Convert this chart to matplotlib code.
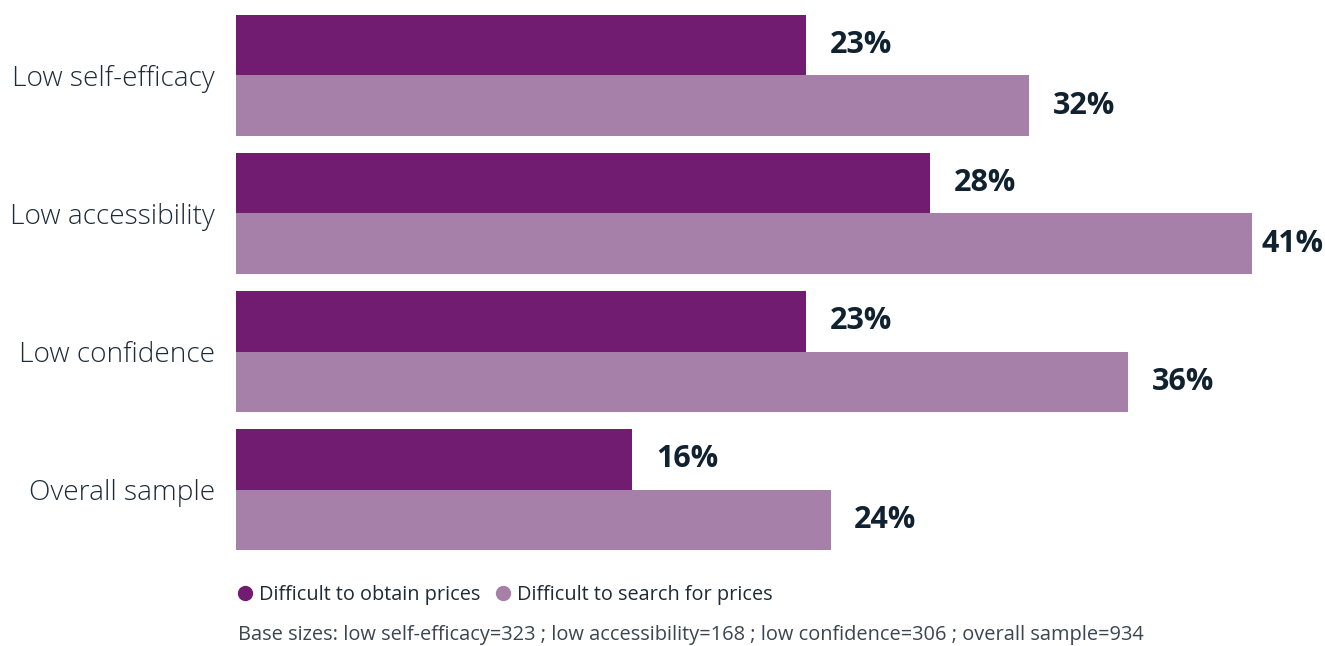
import numpy as np
import matplotlib.pyplot as plt
from matplotlib.lines import Line2D

categories = ['Low self-efficacy', 'Low accessibility', 'Low confidence', 'Overall sample']
obtain = [23, 28, 23, 16]
search = [32, 41, 36, 24]
series_names = ['Difficult to obtain prices', 'Difficult to search for prices']
footnote = ('Base sizes: low self-efficacy=323 ; low accessibility=168 ; '
            'low confidence=306 ; overall sample=934')

dark = '#721c71'
light = '#a780aa'
txt = '#1e2b37'

plt.rcParams['font.family'] = ['Open Sans', 'DejaVu Sans']

fig = plt.figure(figsize=(13.25, 6.46), dpi=100)
ax = fig.add_axes([236 / 1325, 96 / 646, 1089 / 1325, 535 / 646])

y = np.arange(len(categories))
h = 0.438
xmax = 43.95
ax.barh(y - h / 2, obtain, height=h, color=dark)
ax.barh(y + h / 2, search, height=h, color=light)

def label(v, yy):
  # push label right of bar; keep it inside the figure if it would overflow
  if v + 3.4 > xmax:
    ax.text(xmax - 0.05, yy, f'{v}%', va='center', ha='right',
            fontsize=22, fontweight='bold', color='#10212f')
  else:
    ax.text(v + 0.95, yy, f'{v}%', va='center', ha='left',
            fontsize=22, fontweight='bold', color='#10212f')

for i in range(len(categories)):
  label(obtain[i], y[i] - h / 2)
  label(search[i], y[i] + h / 2)

ax.set_xlim(0, xmax)
ax.set_ylim(len(categories) - 1 + h, -h)
ax.set_yticks(y)
ax.set_yticklabels(categories, fontsize=20.2, color=txt, fontweight='light')
ax.tick_params(axis='y', length=0, pad=15)
ax.set_xticks([])
for s in ax.spines.values():
  s.set_visible(False)

handles = [Line2D([], [], marker='o', ls='', color=dark, markersize=10),
           Line2D([], [], marker='o', ls='', color=light, markersize=10)]
fig.legend(handles, series_names, loc='center left', bbox_to_anchor=(217 / 1325, 1 - 595 / 646),
           frameon=False, fontsize=14.3, labelcolor=txt, handletextpad=0.2,
           columnspacing=0.65, ncol=2, handlelength=1.0)
fig.text(238 / 1325, 1 - 635 / 646, footnote, fontsize=14.4, color='#3b4650', va='center', ha='left')

fig.savefig('out.png', dpi=100)
plt.close()
